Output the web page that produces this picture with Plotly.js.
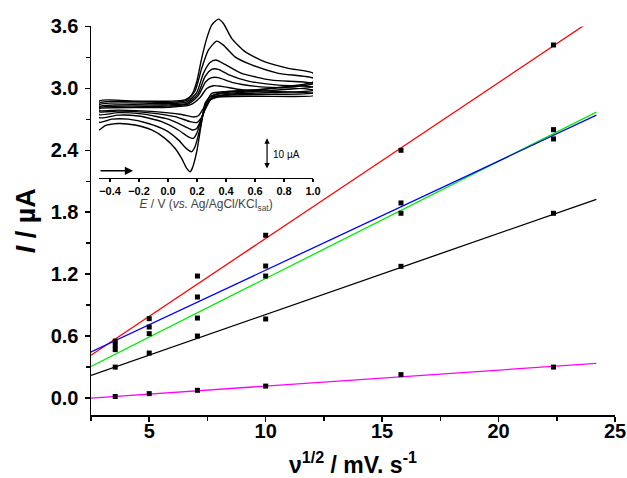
<!DOCTYPE html>
<html>
<head>
<meta charset="utf-8">
<script src="https://cdn.plot.ly/plotly-3.0.1.min.js"></script>
<style>html,body{margin:0;padding:0;background:#fff;}#chart{width:627px;height:478px;}</style>
</head>
<body>
<div id="chart"></div>
<script>
// Main plot: peak current vs square root of scan rate
var sqrtScan = [3.54, 5.0, 7.07, 10.0, 15.81, 22.36];
var redPts     = [0.552, 0.769, 1.182, 1.577, 2.40, 3.42];
var bluePts    = [0.511, 0.688, 0.979, 1.279, 1.89, 2.51];
var greenPts   = [0.469, 0.624, 0.775, 1.182, 1.79, 2.60];
var blackPts   = [0.300, 0.436, 0.601, 0.766, 1.276, 1.79];
var magentaPts = [0.015, 0.043, 0.075, 0.116, 0.227, 0.30];

// Linear fit lines (end values)
var fitX = [2.5, 24.2];
var redFit     = [0.414, 3.69];
var blueFit    = [0.446, 2.74];
var greenFit   = [0.307, 2.77];
var blackFit   = [0.22, 1.925];
var magentaFit = [0.0, 0.336];

// Inset: cyclic voltammograms (E / V, I / uA)
var cv1E = [-0.476,0.002,0.152,0.221,0.267,0.313,0.370,0.508,0.761,1.002, 1.002,0.623,0.347,0.278,0.237,0.209,0.175,0.094,-0.113,-0.343,-0.476,-0.476];
var cv1I = [-1.8,-1.4,-0.6,1.8,4.7,5.6,5.4,4.3,3.7,3.1, 2.4,2.2,1.9,0.6,-2.3,-4.1,-4.5,-3.7,-2.7,-2.3,-2.4,-1.8];
var cv2E = [-0.476,0.002,0.140,0.209,0.260,0.301,0.347,0.439,0.623,1.002, 1.002,0.669,0.393,0.301,0.260,0.228,0.198,0.152,0.048,-0.159,-0.343,-0.476,-0.476];
var cv2I = [-1.5,-1.0,-0.3,2.4,6.9,8.2,8.2,6.7,5.3,4.2, 3.3,2.8,2.5,1.5,-1.7,-4.9,-6.3,-6.0,-4.4,-3.0,-2.6,-2.8,-1.5];
var cv3E = [-0.476,0.002,0.129,0.204,0.255,0.301,0.347,0.416,0.554,0.761,1.002, 1.002,0.715,0.439,0.313,0.267,0.232,0.198,0.167,0.117,0.002,-0.182,-0.343,-0.476,-0.476];
var cv3I = [-1.2,-0.6,-0.1,2.8,8.5,10.9,10.9,9.2,7.1,5.8,5.1, 4.1,3.4,2.9,2.0,-0.6,-4.9,-8.2,-8.7,-7.6,-5.2,-3.5,-3.1,-3.7,-1.2];
var cv4E = [-0.476,0.002,0.129,0.198,0.244,0.290,0.329,0.393,0.508,0.715,1.002, 1.002,0.715,0.462,0.324,0.267,0.232,0.198,0.175,0.140,0.071,-0.044,-0.205,-0.343,-0.476,-0.476];
var cv4I = [-0.6,-0.2,0.4,3.4,9.6,13.1,13.9,12.5,9.6,7.4,6.3, 5.3,4.1,3.3,2.6,-0.1,-4.9,-9.8,-11.4,-10.9,-8.7,-6.0,-4.2,-3.9,-4.7,-0.6];
var cv5E = [-0.476,0.002,0.129,0.186,0.232,0.278,0.336,0.382,0.462,0.577,0.761,1.002, 1.002,0.761,0.531,0.347,0.290,0.255,0.221,0.186,0.163,0.129,0.071,-0.021,-0.136,-0.274,-0.389,-0.476,-0.476];
var cv5I = [-0.1,0.2,0.9,3.9,11.2,17.1,20.0,18.7,14.9,12.3,9.6,8.0, 6.3,4.9,3.9,3.1,2.0,-1.2,-8.2,-14.1,-15.7,-14.8,-11.9,-8.7,-6.6,-5.2,-5.2,-6.2,-0.1];
var cv6E = [-0.476,-0.228,0.002,0.117,0.163,0.198,0.232,0.267,0.301,0.347,0.382,0.439,0.531,0.669,0.830,1.002, 1.002,0.807,0.577,0.393,0.301,0.278,0.255,0.228,0.198,0.167,0.152,0.129,0.094,0.048,-0.021,-0.113,-0.228,-0.343,-0.434,-0.476,-0.476];
var cv6I = [0.6,0.6,0.6,1.0,2.6,6.9,14.4,20.9,25.2,27.1,25.7,20.9,16.6,13.3,11.2,9.6, 6.9,5.3,4.2,3.7,3.1,1.5,-0.1,-7.1,-15.7,-21.1,-22.2,-21.1,-17.9,-14.6,-11.4,-8.7,-7.1,-6.6,-7.3,-8.7,0.6];

var FONT = 'Liberation Sans, Arial, Helvetica, sans-serif';

function fit(y, color) {
  return {x: fitX, y: y, mode: 'lines', type: 'scatter', xaxis: 'x', yaxis: 'y',
          line: {color: color, width: 1.3}, hoverinfo: 'skip'};
}
function pts(y) {
  return {x: sqrtScan, y: y, mode: 'markers', type: 'scatter', xaxis: 'x', yaxis: 'y',
          marker: {symbol: 'square', size: 5, color: '#000'}, cliponaxis: false};
}
function cv(e, i) {
  return {x: e, y: i, mode: 'lines', type: 'scatter', xaxis: 'x2', yaxis: 'y2',
          line: {color: '#000', width: 1.4, shape: 'spline', smoothing: 0.6}, hoverinfo: 'skip'};
}

var data = [
  fit(redFit, '#ff0000'), fit(greenFit, '#00ee00'), fit(blueFit, '#0000ff'),
  fit(blackFit, '#000000'), fit(magentaFit, '#ff00ff'),
  pts(redPts), pts(bluePts), pts(greenPts), pts(blackPts), pts(magentaPts),
  cv(cv1E, cv1I), cv(cv2E, cv2I), cv(cv3E, cv3I), cv(cv4E, cv4I), cv(cv5E, cv5I), cv(cv6E, cv6I)
];

var layout = {
  width: 627, height: 478,
  margin: {l: 91, r: 12, t: 10, b: 63, pad: 0},
  paper_bgcolor: '#fff', plot_bgcolor: 'rgba(0,0,0,0)',
  showlegend: false,
  font: {family: FONT, color: '#000'},
  xaxis: {
    domain: [0, 1], anchor: 'y', range: [2.5, 25],
    showline: true, linecolor: '#000', linewidth: 1.5, mirror: false,
    ticks: 'outside', ticklen: 5, tickwidth: 1.5, tickcolor: '#000',
    tick0: 0, dtick: 5,
    minor: {dtick: 2.5, ticks: 'outside', ticklen: 4, tickwidth: 1.5, tickcolor: '#000', showgrid: false},
    showgrid: false, zeroline: false,
    ticklabelstandoff: -8,
    tickfont: {family: FONT, size: 20, weight: 'bold', color: '#000'},
    title: {text: '<b>\u03bd<sup>1/2</sup> / mV. s<sup>-1</sup></b>', font: {family: FONT, size: 23, color: '#000'}, standoff: 16}
  },
  yaxis: {
    domain: [0, 0.9595], anchor: 'x', range: [-0.164, 3.6],
    showline: true, linecolor: '#000', linewidth: 1.5,
    ticks: 'outside', ticklen: 5, tickwidth: 1.5, tickcolor: '#000',
    tick0: 0, dtick: 0.6, tickformat: '.1f',
    minor: {dtick: 0.3, ticks: 'outside', ticklen: 4, tickwidth: 1.5, tickcolor: '#000', showgrid: false},
    showgrid: false, zeroline: false,
    ticklabelstandoff: 2,
    tickfont: {family: FONT, size: 20, weight: 'bold', color: '#000'},
    title: {text: '<b><i>I</i> / \u00b5A</b>', font: {family: FONT, size: 27, color: '#000'}, standoff: 7}
  },
  xaxis2: {
    domain: [0.0153, 0.4237], anchor: 'y2', range: [-0.476, 1.0],
    showline: true, linecolor: '#000', linewidth: 1.3,
    ticks: 'outside', ticklen: 3, tickwidth: 1.2, tickcolor: '#000',
    tick0: 0, dtick: 0.2, tickformat: '.1f',
    showgrid: false, zeroline: false,
    tickfont: {family: FONT, size: 11, weight: 'bold', color: '#000'},
    title: {text: '<i>E</i> / V (<i>vs.</i> Ag/AgCl/KCl<sub>sat</sub>)', font: {family: FONT, size: 12, color: '#444'}, standoff: 1}
  },
  yaxis2: {
    domain: [0.586, 0.995], anchor: 'x2', range: [-24.1, 29.4],
    visible: false, showgrid: false, zeroline: false
  },
  annotations: [
    {xref: 'x2', yref: 'y2', axref: 'x2', ayref: 'y2', x: -0.241, y: -21.9, ax: -0.476, ay: -21.9,
     text: '', showarrow: true, arrowhead: 2, arrowsize: 1.1, arrowwidth: 1.5, arrowcolor: '#000', standoff: 0},
    {xref: 'x2', yref: 'y2', axref: 'x2', ayref: 'y2', x: 0.683, y: -11.4, ax: 0.683, ay: -21.6,
     text: '', showarrow: true, arrowhead: 2, arrowside: 'end+start', arrowsize: 0.9, arrowwidth: 1.2, arrowcolor: '#000', standoff: 0, startstandoff: 0},
    {xref: 'x2', yref: 'y2', x: 0.71, y: -16.5, xanchor: 'left', yanchor: 'middle',
     text: '10 \u00b5A', showarrow: false, font: {family: FONT, size: 10, color: '#000'}}
  ]
};

Plotly.newPlot('chart', data, layout, {staticPlot: true, displayModeBar: false});
</script>
</body>
</html>
